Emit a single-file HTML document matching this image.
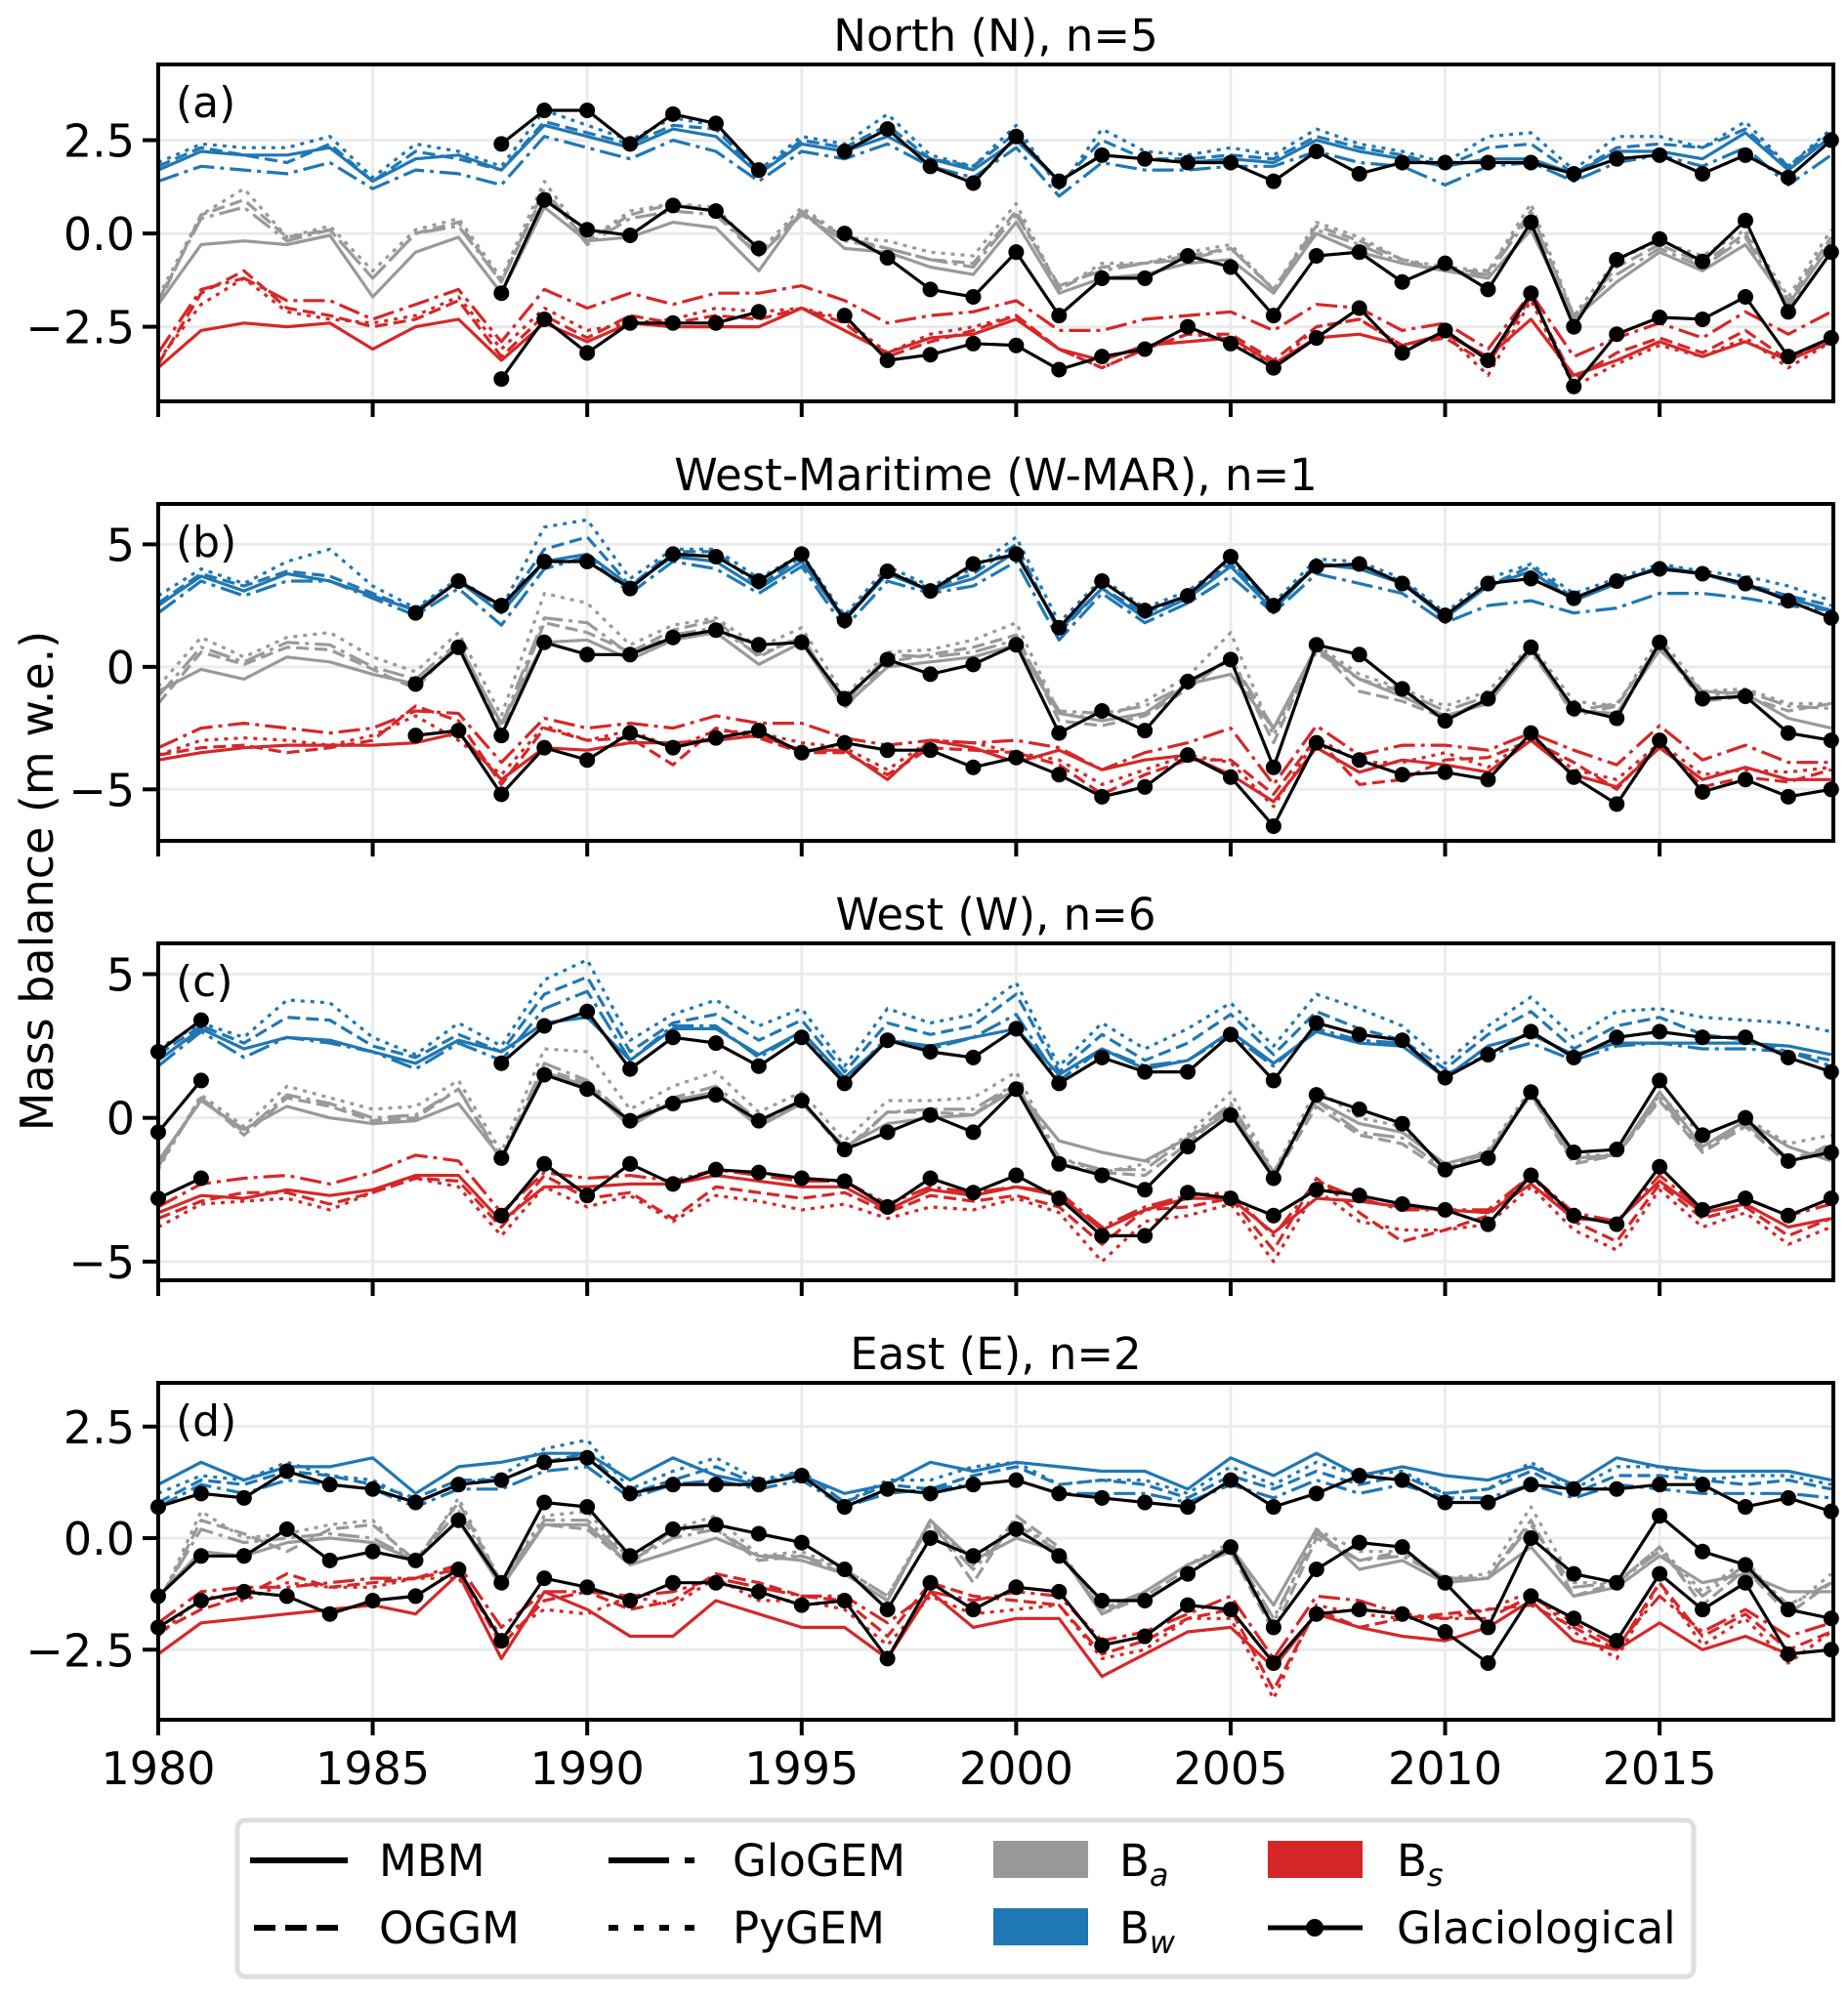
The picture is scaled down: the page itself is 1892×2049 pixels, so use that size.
<!DOCTYPE html>
<html><head><meta charset="utf-8">
<style>
body{margin:0;background:#fff;}
svg{display:block;font-family:"DejaVu Sans","Liberation Sans",sans-serif;}
</style></head>
<body>
<svg id="chart" width="1892" height="2049" viewBox="0 0 1892 2049" xmlns="http://www.w3.org/2000/svg">
<g id="plots"></g>
<g id="legend">
  <rect x="243" y="1864" width="1491" height="160" rx="8" fill="#fff" stroke="#dedede" stroke-width="5"/>
  <g><line x1="256" y1="1905" x2="356" y2="1905" stroke="#000" stroke-width="6"/><text x="388" y="1921" font-size="45">MBM</text></g>
  <g><line x1="260" y1="1974" x2="356" y2="1974" stroke="#000" stroke-width="6" stroke-dasharray="22,10"/><text x="388" y="1990" font-size="45">OGGM</text></g>
  <g><line x1="623" y1="1905" x2="711" y2="1905" stroke="#000" stroke-width="6" stroke-dasharray="62,16,10,0"/><text x="750" y="1921" font-size="45">GloGEM</text></g>
  <g><line x1="623" y1="1974" x2="711" y2="1974" stroke="#000" stroke-width="6" stroke-dasharray="10,16"/><text x="750" y="1990" font-size="45">PyGEM</text></g>
  <g><rect x="1017" y="1885" width="97" height="38" fill="#999"/><text x="1146" y="1921" font-size="45">B<tspan font-size="32" font-style="italic" dy="10">a</tspan></text></g>
  <g><rect x="1017" y="1954" width="97" height="38" fill="#1f77b4"/><text x="1146" y="1990" font-size="45">B<tspan font-size="32" font-style="italic" dy="10">w</tspan></text></g>
  <g><rect x="1298" y="1885" width="97" height="38" fill="#d62728"/><text x="1430" y="1921" font-size="45">B<tspan font-size="32" font-style="italic" dy="10">s</tspan></text></g>
  <g><line x1="1298" y1="1974" x2="1395" y2="1974" stroke="#000" stroke-width="5"/><circle cx="1346" cy="1974" r="9"/><text x="1430" y="1990" font-size="45">Glaciological</text></g>
</g>
<text x="54" y="902" font-size="46" text-anchor="middle" transform="rotate(-90 54 902)">Mass balance (m w.e.)</text>
</svg>
<script>
const years=[];for(let y=1980;y<=2019;y++)years.push(y);
const xTicks=[1980,1985,1990,1995,2000,2005,2010,2015];
const panelTitles=["North (N), n=5","West-Maritime (W-MAR), n=1","West (W), n=6","East (E), n=2"];
const panelLetters=["(a)","(b)","(c)","(d)"];
const yTicksA=[-2.5,0,2.5],yTicksB=[-5,0,5],yTicksC=[-5,0,5],yTicksD=[-2.5,0,2.5];
const yLimA=[-4.5,4.53],yLimB=[-7.1,6.65],yLimC=[-5.65,6.07],yLimD=[-4.07,3.48];
const _=null;
// Panel a
const aBwMBM=[1.7,2.2,2.1,2.1,2.3,1.4,2.0,2.1,1.7,2.9,2.6,2.3,2.8,2.6,1.6,2.4,2.2,2.6,2.0,1.7,2.5,1.4,2.1,2.0,1.9,2.0,1.9,2.5,2.2,2.0,1.8,2.0,2.0,1.6,2.2,2.2,2.0,2.7,1.7,2.6];
const aBwOGGM=[1.8,2.3,2.1,1.9,2.4,1.4,2.2,2.0,1.7,3.0,2.7,2.4,2.9,2.8,1.6,2.5,2.3,2.9,2.0,1.8,2.7,1.3,2.5,2.0,2.0,2.1,2.0,2.6,2.3,2.1,1.8,2.3,2.4,1.6,2.3,2.4,2.3,2.8,1.8,2.7];
const aBwPyGEM=[1.9,2.4,2.3,2.3,2.6,1.5,2.4,2.2,1.8,3.3,2.9,2.5,3.1,2.9,1.7,2.6,2.4,3.2,2.1,1.8,2.9,1.2,2.8,2.2,2.1,2.3,2.1,2.8,2.4,2.2,1.9,2.6,2.7,1.7,2.6,2.6,2.3,3.0,1.8,2.8];
const aBwGloGEM=[1.4,1.8,1.7,1.6,1.9,1.2,1.7,1.6,1.3,2.6,2.3,2.0,2.5,2.2,1.4,2.2,2.0,2.4,1.8,1.5,2.3,1.0,1.9,1.7,1.7,1.8,1.8,2.2,1.9,1.8,1.3,1.8,1.9,1.4,1.9,2.1,1.8,2.3,1.3,2.1];
const aBwGlac=[_,_,_,_,_,_,_,_,2.4,3.3,3.3,2.4,3.2,2.95,1.7,_,2.2,2.8,1.8,1.35,2.6,1.4,2.1,2.0,1.9,1.9,1.4,2.2,1.6,1.9,1.9,1.9,1.9,1.6,2.0,2.1,1.6,2.1,1.5,2.5];
const aBaMBM=[-1.9,-0.3,-0.2,-0.3,-0.05,-1.7,-0.5,-0.1,-1.6,0.7,-0.2,-0.1,0.3,0.15,-1.0,0.6,-0.4,-0.5,-0.9,-1.1,0.3,-1.6,-1.2,-1.1,-0.8,-0.7,-1.6,0.0,-0.5,-0.8,-1.0,-1.2,0.1,-2.3,-1.3,-0.5,-1.0,-0.3,-1.9,-0.3];
const aBaOGGM=[-1.9,0.5,0.9,-0.1,0.1,-1.2,0.0,0.3,-1.3,1.1,-0.2,0.5,0.8,0.6,-0.6,0.6,-0.1,-0.4,-0.7,-0.8,0.6,-1.5,-0.9,-0.8,-0.6,-0.4,-1.5,0.2,-0.2,-0.7,-1.0,-1.0,0.6,-2.3,-0.9,-0.3,-0.8,0.0,-1.8,-0.1];
const aBaPyGEM=[-1.7,0.5,1.2,-0.1,0.2,-1.0,0.1,0.4,-1.2,1.4,-0.2,0.6,0.8,0.7,-0.5,0.7,-0.1,-0.2,-0.5,-0.6,0.8,-1.5,-0.8,-0.8,-0.5,-0.3,-1.5,0.3,-0.1,-0.7,-0.9,-1.0,0.8,-2.2,-0.7,-0.2,-0.6,0.1,-1.7,0.1];
const aBaGloGEM=[-1.8,0.4,0.7,-0.2,0.1,-1.2,0.0,0.2,-1.3,1.2,-0.3,0.4,0.6,0.5,-0.6,0.5,-0.2,-0.4,-0.7,-0.9,0.5,-1.4,-1.0,-0.8,-0.7,-0.4,-1.5,0.1,-0.3,-0.8,-1.0,-1.1,0.5,-2.2,-1.1,-0.4,-0.9,-0.1,-2.0,-0.2];
const aBaGlac=[_,_,_,_,_,_,_,_,-1.6,0.9,0.1,-0.05,0.75,0.6,-0.4,_,0.0,-0.65,-1.5,-1.7,-0.5,-2.2,-1.2,-1.2,-0.6,-0.9,-2.2,-0.6,-0.5,-1.3,-0.8,-1.5,0.3,-2.5,-0.7,-0.15,-0.75,0.35,-2.1,-0.5];
const aBsMBM=[-3.6,-2.6,-2.4,-2.5,-2.4,-3.1,-2.5,-2.3,-3.4,-2.4,-2.9,-2.4,-2.5,-2.5,-2.5,-2.0,-2.6,-3.2,-2.8,-2.7,-2.3,-3.1,-3.4,-3.0,-2.9,-2.8,-3.5,-2.8,-2.7,-3.0,-2.7,-3.3,-2.3,-3.8,-3.4,-2.9,-3.3,-2.9,-3.4,-2.9];
const aBsOGGM=[-3.5,-1.6,-1.0,-2.0,-2.2,-2.5,-2.3,-1.8,-3.3,-2.2,-2.8,-2.2,-2.4,-2.2,-2.3,-2.0,-2.4,-3.3,-2.9,-2.6,-2.2,-3.1,-3.6,-3.1,-2.7,-2.7,-3.4,-2.5,-2.3,-3.0,-2.8,-3.5,-1.7,-3.9,-3.2,-2.8,-3.2,-2.6,-3.4,-2.8];
const aBsPyGEM=[-3.4,-1.9,-1.2,-2.1,-2.3,-2.4,-2.2,-1.7,-3.1,-2.0,-2.6,-2.4,-2.3,-2.0,-2.1,-2.0,-2.3,-3.2,-2.7,-2.5,-2.2,-3.1,-3.6,-3.1,-2.7,-2.8,-3.6,-2.5,-2.3,-3.0,-2.7,-3.8,-1.8,-4.1,-3.5,-3.0,-3.3,-2.8,-3.6,-2.9];
const aBsGloGEM=[-3.2,-1.5,-1.2,-1.8,-1.8,-2.3,-1.9,-1.5,-2.9,-1.5,-2.0,-1.6,-1.9,-1.6,-1.6,-1.4,-1.8,-2.4,-2.2,-2.1,-1.8,-2.6,-2.6,-2.3,-2.2,-2.1,-2.6,-1.9,-2.0,-2.6,-2.4,-3.1,-1.6,-3.3,-2.8,-2.4,-2.8,-2.1,-2.7,-2.1];
const aBsGlac=[_,_,_,_,_,_,_,_,-3.9,-2.3,-3.2,-2.4,-2.4,-2.4,-2.1,_,-2.2,-3.4,-3.25,-2.95,-3.0,-3.65,-3.3,-3.1,-2.5,-2.95,-3.6,-2.8,-2.0,-3.2,-2.6,-3.4,-1.6,-4.1,-2.7,-2.25,-2.3,-1.7,-3.3,-2.8];
// Panel b
const bBwMBM=[2.5,3.7,3.1,3.8,3.5,2.9,2.3,3.5,2.2,4.3,4.6,3.3,4.5,4.3,3.2,4.3,1.9,3.8,3.1,3.6,4.7,1.5,3.2,2.0,2.8,4.1,2.3,4.2,4.0,3.4,2.0,3.3,3.9,2.7,3.4,4.1,3.8,3.3,2.8,2.3];
const bBwOGGM=[2.6,3.8,3.3,3.9,3.7,3.0,2.3,3.5,2.3,4.8,5.3,3.3,4.7,4.7,3.3,4.5,2.0,3.9,3.2,3.8,5.0,1.4,3.2,2.2,2.9,4.2,2.5,4.2,4.1,3.5,2.1,3.3,4.1,2.8,3.5,4.0,3.8,3.4,2.9,2.5];
const bBwPyGEM=[2.9,4.0,3.4,4.3,4.8,3.3,2.4,3.6,2.4,5.7,6.0,3.6,4.8,4.8,3.6,4.6,2.1,4.1,3.3,4.0,5.3,1.8,3.6,2.4,3.1,4.3,2.6,4.4,4.3,3.6,2.2,3.6,4.2,3.0,3.6,4.2,3.9,3.7,3.3,2.7];
const bBwGloGEM=[2.2,3.5,2.9,3.5,3.5,2.8,2.1,3.2,1.7,4.0,4.5,3.0,4.3,4.0,3.0,4.1,1.6,3.5,3.0,3.3,4.3,1.1,3.0,1.8,2.6,3.7,2.2,3.8,3.4,3.0,1.8,2.5,2.7,2.2,2.4,3.0,3.0,2.8,2.5,2.3];
const bBwGlac=[_,_,_,_,_,_,2.2,3.5,2.5,4.3,4.3,3.2,4.6,4.5,3.5,4.6,1.9,3.9,3.1,4.2,4.6,1.6,3.5,2.3,2.9,4.5,2.5,4.1,4.2,3.4,2.1,3.4,3.6,2.8,3.5,4.0,3.8,3.4,2.7,2.0];
const bBaMBM=[-1.0,-0.1,-0.5,0.4,0.2,-0.3,-0.7,0.8,-2.3,1.0,1.1,0.3,1.1,1.4,0.1,1.0,-1.6,0.0,0.2,0.4,0.9,-1.9,-2.2,-1.9,-0.7,-0.3,-2.5,0.8,-0.5,-1.2,-2.0,-1.5,0.7,-1.8,-1.9,0.7,-1.0,-1.1,-2.1,-2.5];
const bBaOGGM=[-1.5,0.6,0.1,0.8,0.7,-0.1,-0.9,1.0,-2.6,1.8,1.4,0.6,1.5,1.9,0.4,1.3,-1.7,0.2,0.5,0.8,1.3,-2.2,-2.4,-2.0,-0.9,0.4,-3.1,0.8,-1.0,-1.4,-2.1,-1.3,0.8,-2.0,-1.6,0.9,-1.4,-1.2,-1.8,-1.5];
const bBaPyGEM=[-0.8,1.2,0.4,1.2,1.4,0.4,-0.2,1.4,-2.0,3.0,2.6,0.9,1.7,2.0,0.8,1.6,-1.2,0.6,0.7,1.1,1.8,-1.9,-2.1,-1.4,-0.4,1.4,-2.8,0.9,-0.3,-0.9,-1.6,-1.0,0.9,-1.4,-1.6,1.2,-1.0,-0.9,-1.5,-1.5];
const bBaGloGEM=[-1.2,0.8,0.2,1.0,0.9,0.0,-0.5,1.0,-2.4,2.0,1.8,0.5,1.3,1.6,0.5,1.2,-1.5,0.5,0.4,0.6,1.1,-1.8,-1.9,-1.6,-0.7,0.3,-2.5,0.6,-0.5,-1.0,-1.8,-1.2,0.6,-1.8,-1.5,0.8,-1.2,-1.0,-1.6,-1.7];
const bBaGlac=[_,_,_,_,_,_,-0.7,0.8,-2.8,1.0,0.5,0.5,1.2,1.5,0.9,1.0,-1.3,0.3,-0.3,0.1,0.9,-2.7,-1.8,-2.6,-0.6,0.3,-4.1,0.9,0.5,-0.9,-2.2,-1.3,0.8,-1.7,-2.1,1.0,-1.3,-1.2,-2.7,-3.0];
const bBsMBM=[-3.8,-3.5,-3.3,-3.2,-3.2,-3.2,-3.1,-2.7,-4.6,-3.3,-3.4,-3.1,-3.1,-3.0,-2.8,-3.4,-3.4,-4.6,-3.0,-3.3,-3.9,-3.4,-4.2,-3.8,-3.6,-4.4,-5.5,-3.3,-4.3,-3.8,-4.0,-4.3,-3.0,-4.4,-4.9,-3.3,-4.6,-4.1,-4.6,-4.6];
const bBsOGGM=[-3.6,-3.3,-3.2,-3.5,-3.3,-3.0,-1.6,-2.2,-4.8,-2.5,-3.0,-2.9,-4.0,-2.5,-2.9,-3.5,-3.5,-4.4,-3.3,-3.4,-3.5,-4.0,-5.2,-4.4,-3.8,-3.8,-5.2,-2.9,-4.8,-4.6,-3.8,-3.7,-3.0,-3.9,-5.0,-3.1,-4.9,-4.5,-4.7,-4.2];
const bBsPyGEM=[-3.6,-3.0,-2.9,-3.0,-3.2,-2.8,-2.0,-3.0,-4.4,-2.4,-3.0,-2.6,-3.3,-2.6,-2.7,-3.1,-3.3,-4.2,-3.0,-3.1,-3.5,-3.8,-4.8,-4.2,-3.6,-3.9,-5.7,-2.9,-3.9,-3.9,-3.5,-4.1,-2.9,-4.2,-4.6,-3.1,-4.4,-4.2,-4.3,-4.1];
const bBsGloGEM=[-3.3,-2.5,-2.3,-2.5,-2.7,-2.5,-1.8,-1.9,-3.9,-2.1,-2.5,-2.3,-2.5,-2.0,-2.3,-2.3,-2.9,-3.2,-3.0,-3.1,-3.0,-3.3,-4.2,-3.5,-3.1,-2.5,-4.8,-2.4,-3.6,-3.2,-3.2,-3.4,-2.7,-3.4,-4.0,-2.4,-3.8,-3.2,-3.9,-3.9];
const bBsGlac=[_,_,_,_,_,_,-2.8,-2.6,-5.2,-3.3,-3.8,-2.7,-3.3,-2.9,-2.6,-3.5,-3.1,-3.4,-3.4,-4.1,-3.7,-4.4,-5.3,-4.9,-3.6,-4.5,-6.5,-3.1,-3.8,-4.4,-4.3,-4.6,-2.7,-4.5,-5.6,-3.0,-5.1,-4.6,-5.3,-5.0];
// Panel c
const cBwMBM=[2.0,3.1,2.4,2.8,2.7,2.3,1.9,2.7,2.3,3.3,3.5,2.0,3.1,3.1,2.2,3.0,1.4,2.7,2.5,2.8,3.1,1.5,2.4,1.7,2.0,3.0,1.9,3.0,2.6,2.5,1.4,2.5,2.9,2.2,2.6,2.6,2.6,2.6,2.5,2.2];
const cBwOGGM=[2.2,3.2,2.6,3.5,3.4,2.5,2.1,2.9,2.3,4.3,4.9,2.3,3.3,3.6,2.7,3.4,1.6,3.3,2.9,3.2,4.3,1.6,2.9,2.0,2.6,3.6,2.2,3.7,3.1,2.7,1.7,2.9,3.7,2.4,3.2,3.5,2.9,2.7,2.3,2.0];
const cBwPyGEM=[2.4,3.3,2.8,4.1,4.0,2.8,2.2,3.3,2.5,4.8,5.5,2.7,3.6,4.1,3.2,3.8,1.8,3.8,3.3,3.6,4.7,1.8,3.3,2.4,3.1,4.0,2.5,4.3,3.8,3.2,1.9,3.2,4.2,2.8,3.7,3.8,3.5,3.4,3.3,3.0];
const cBwGloGEM=[1.8,3.0,2.1,2.8,2.6,2.3,1.7,2.6,2.0,3.8,4.4,2.0,3.2,3.2,2.1,3.0,1.3,2.8,2.4,2.8,3.6,1.3,2.4,1.8,2.0,2.9,1.8,3.1,2.7,2.6,1.5,2.2,2.6,2.0,2.5,2.6,2.4,2.4,2.3,1.8];
const cBwGlac=[2.3,3.4,_,_,_,_,_,_,1.9,3.2,3.7,1.7,2.8,2.6,1.8,2.8,1.2,2.7,2.3,2.1,3.1,1.2,2.1,1.6,1.6,2.9,1.3,3.3,2.9,2.7,1.4,2.2,3.0,2.1,2.8,3.0,2.8,2.8,2.1,1.6];
const cBaMBM=[-1.5,0.6,-0.4,0.4,0.0,-0.2,-0.1,0.5,-1.4,1.6,1.1,-0.3,0.6,0.9,-0.3,0.5,-1.0,-0.2,0.0,0.1,1.0,-0.8,-1.2,-1.5,-0.7,0.2,-1.9,0.6,-0.2,-0.5,-1.6,-1.2,0.8,-1.4,-1.3,0.9,-1.0,-0.1,-1.0,-1.5];
const cBaOGGM=[-1.6,0.7,-0.6,0.7,0.4,-0.1,0.0,1.0,-1.5,1.7,1.2,-0.2,0.6,0.9,-0.2,0.6,-1.2,0.2,0.2,0.1,1.2,-1.6,-1.9,-2.0,-0.9,0.4,-2.1,0.4,-0.6,-0.9,-1.9,-1.2,0.8,-1.6,-1.3,0.6,-1.2,-0.3,-1.6,-0.9];
const cBaPyGEM=[-1.8,0.8,-0.3,1.1,0.7,0.3,0.4,1.3,-1.2,2.4,2.3,0.3,1.1,1.6,0.2,0.9,-0.8,0.6,0.6,0.7,1.6,-1.4,-1.9,-1.6,-0.6,0.9,-1.9,1.0,0.0,-0.3,-1.8,-1.1,1.0,-1.3,-1.3,0.8,-0.6,0.0,-0.9,-0.6];
const cBaGloGEM=[-1.7,0.7,-0.5,0.8,0.5,0.0,0.1,1.0,-1.4,1.9,1.3,-0.1,0.7,1.1,-0.1,0.6,-1.1,0.2,0.3,0.3,1.2,-1.4,-1.8,-1.8,-0.7,0.5,-1.9,0.6,-0.5,-0.7,-1.8,-1.2,0.9,-1.5,-1.3,0.7,-1.1,-0.2,-1.4,-1.1];
const cBaGlac=[-0.5,1.3,_,_,_,_,_,_,-1.4,1.5,1.0,-0.1,0.5,0.8,-0.1,0.6,-1.1,-0.5,0.1,-0.5,1.0,-1.6,-2.0,-2.5,-1.0,0.1,-2.1,0.8,0.3,-0.2,-1.8,-1.4,0.9,-1.2,-1.1,1.3,-0.6,0.0,-1.5,-1.2];
const cBsMBM=[-3.3,-2.7,-2.8,-2.5,-2.7,-2.5,-2.0,-2.0,-3.6,-2.4,-2.4,-2.3,-2.3,-2.0,-2.2,-2.4,-2.4,-3.2,-2.5,-2.7,-2.4,-2.7,-3.9,-3.2,-2.8,-2.8,-4.0,-2.8,-2.9,-3.1,-3.2,-3.3,-2.3,-3.5,-3.6,-2.2,-3.3,-3.0,-3.8,-3.5];
const cBsOGGM=[-3.5,-2.9,-2.6,-2.6,-3.0,-2.6,-2.1,-2.2,-3.8,-2.0,-2.8,-2.6,-3.5,-2.4,-2.6,-2.8,-2.6,-3.3,-2.7,-2.9,-2.7,-3.1,-4.4,-3.2,-3.1,-2.8,-4.6,-2.1,-3.3,-4.3,-3.9,-3.4,-2.0,-3.6,-4.3,-2.3,-3.5,-3.1,-4.1,-3.5];
const cBsPyGEM=[-3.8,-3.0,-2.9,-2.8,-3.2,-2.6,-2.1,-2.4,-4.1,-2.4,-3.1,-2.7,-3.6,-2.7,-2.9,-3.2,-3.0,-3.5,-3.1,-3.2,-2.8,-3.3,-5.0,-3.6,-3.4,-3.0,-5.0,-2.5,-3.6,-3.9,-3.9,-3.7,-2.4,-3.9,-4.6,-2.5,-3.8,-3.3,-4.4,-3.8];
const cBsGloGEM=[-3.1,-2.3,-2.1,-2.0,-2.3,-1.9,-1.3,-1.5,-3.3,-1.9,-2.1,-2.0,-2.2,-1.8,-2.0,-2.2,-2.2,-3.0,-2.4,-2.6,-2.4,-2.6,-3.8,-3.1,-2.7,-2.6,-4.1,-2.2,-2.8,-3.2,-3.2,-3.2,-2.0,-3.3,-3.6,-2.0,-3.2,-2.8,-3.4,-3.0];
const cBsGlac=[-2.8,-2.1,_,_,_,_,_,_,-3.4,-1.6,-2.7,-1.6,-2.3,-1.8,-1.9,-2.1,-2.2,-3.1,-2.1,-2.6,-2.0,-2.8,-4.1,-4.1,-2.6,-2.8,-3.4,-2.5,-2.7,-3.0,-3.2,-3.7,-2.0,-3.4,-3.7,-1.7,-3.2,-2.8,-3.4,-2.8];
// Panel d
const dBwMBM=[1.2,1.7,1.3,1.6,1.6,1.8,1.0,1.6,1.7,1.9,1.9,1.3,1.8,1.4,1.2,1.4,1.0,1.2,1.7,1.5,1.7,1.6,1.5,1.5,1.1,1.8,1.4,1.9,1.4,1.6,1.4,1.3,1.6,1.2,1.8,1.6,1.5,1.5,1.5,1.3];
const dBwOGGM=[0.8,1.3,1.2,1.5,1.4,1.2,0.9,1.3,1.3,1.7,1.9,1.0,1.3,1.6,1.2,1.5,0.8,1.2,1.1,1.4,1.6,1.2,1.3,1.2,0.9,1.4,1.1,1.5,1.2,1.4,1.0,1.1,1.5,1.0,1.4,1.4,1.3,1.2,1.3,1.1];
const dBwPyGEM=[1.0,1.4,1.3,1.7,1.4,1.3,0.8,1.2,1.4,2.0,2.2,1.1,1.5,1.8,1.3,1.5,0.8,1.3,1.3,1.6,1.7,1.2,1.3,1.3,1.0,1.6,1.2,1.7,1.4,1.5,1.0,1.1,1.7,1.1,1.6,1.6,1.3,1.4,1.4,1.2];
const dBwGloGEM=[0.7,1.2,1.0,1.3,1.2,1.1,0.7,1.1,1.1,1.5,1.6,0.9,1.2,1.3,1.1,1.3,0.7,1.0,1.1,1.2,1.3,1.0,1.0,1.0,0.8,1.2,0.9,1.3,1.0,1.2,0.9,0.9,1.2,0.9,1.2,1.1,1.0,1.0,1.0,0.9];
const dBwGlac=[0.7,1.0,0.9,1.5,1.2,1.1,0.8,1.2,1.3,1.7,1.8,1.0,1.2,1.2,1.2,1.4,0.7,1.1,1.0,1.2,1.3,1.0,0.9,0.8,0.7,1.3,0.7,1.0,1.4,1.3,0.8,0.8,1.2,1.1,1.1,1.2,1.2,0.7,0.9,0.6];
const dBaMBM=[-1.3,-0.3,-0.4,-0.1,0.0,-0.1,-0.5,0.4,-1.1,0.3,0.3,-0.6,-0.3,0.0,-0.4,-0.5,-0.8,-1.4,0.4,-0.5,0.0,-0.3,-1.7,-1.2,-0.6,-0.2,-1.5,0.2,-0.7,-0.5,-1.0,-0.9,-0.2,-1.3,-1.1,-0.4,-1.0,-0.8,-1.2,-1.2];
const dBaOGGM=[-1.5,0.4,0.1,-0.3,0.2,0.3,-0.5,0.8,-1.0,0.3,0.2,-0.6,0.2,0.2,-0.5,-0.4,-0.8,-1.4,0.4,-1.0,0.5,-0.2,-1.7,-1.3,-0.7,-0.3,-2.1,0.0,-0.5,-0.3,-0.9,-0.9,0.4,-1.3,-1.0,-0.2,-1.5,-0.7,-1.7,-1.0];
const dBaPyGEM=[-1.5,0.6,0.0,0.1,0.3,0.4,-0.6,0.9,-1.0,0.5,0.6,-0.5,0.2,0.5,-0.4,-0.3,-0.7,-1.3,0.4,-0.6,0.4,-0.3,-1.6,-1.2,-0.6,-0.1,-1.9,0.2,-0.3,-0.3,-0.9,-0.8,0.7,-1.0,-1.0,-0.2,-1.2,-0.5,-1.6,-0.8];
const dBaGloGEM=[-1.4,0.2,-0.1,0.0,0.1,0.0,-0.5,0.6,-1.0,0.4,0.4,-0.5,0.0,0.2,-0.4,-0.4,-0.7,-1.3,0.3,-0.7,0.3,-0.3,-1.6,-1.2,-0.6,-0.2,-1.8,0.1,-0.5,-0.4,-0.9,-0.9,0.3,-1.1,-1.0,-0.3,-1.3,-0.6,-1.5,-1.0];
const dBaGlac=[-1.3,-0.4,-0.4,0.2,-0.5,-0.3,-0.5,0.4,-1.0,0.8,0.7,-0.4,0.2,0.3,0.1,-0.1,-0.7,-1.6,0.0,-0.4,0.2,-0.4,-1.4,-1.4,-0.8,-0.2,-2.0,-0.7,-0.1,-0.2,-1.0,-2.0,0.0,-0.8,-1.0,0.5,-0.3,-0.6,-1.6,-1.8];
const dBsMBM=[-2.6,-1.9,-1.8,-1.7,-1.6,-1.5,-1.7,-0.8,-2.7,-1.2,-1.6,-2.2,-2.2,-1.4,-1.7,-2.0,-2.0,-2.7,-1.2,-2.0,-1.8,-1.8,-3.1,-2.6,-2.1,-2.0,-2.9,-1.7,-2.0,-2.2,-2.3,-2.0,-1.4,-2.3,-2.5,-1.9,-2.5,-2.2,-2.6,-2.5];
const dBsOGGM=[-2.1,-1.6,-1.3,-0.8,-1.1,-1.0,-0.9,-0.7,-2.4,-1.4,-1.2,-1.6,-1.4,-0.8,-1.0,-1.3,-1.4,-2.2,-1.0,-1.3,-1.4,-1.5,-2.6,-2.3,-1.8,-1.6,-3.4,-1.6,-2.0,-1.8,-1.7,-1.6,-1.5,-2.0,-2.5,-1.0,-2.2,-1.7,-2.5,-2.1];
const dBsPyGEM=[-2.2,-1.3,-1.4,-1.0,-1.1,-1.1,-0.9,-0.9,-2.2,-1.6,-1.7,-1.3,-1.5,-0.9,-1.4,-1.4,-1.6,-2.4,-1.3,-1.7,-1.6,-1.5,-2.7,-2.5,-1.8,-1.8,-3.6,-1.5,-1.7,-1.8,-1.8,-1.6,-1.2,-2.1,-2.7,-1.0,-2.4,-1.8,-2.8,-2.1];
const dBsGloGEM=[-1.9,-1.2,-1.1,-1.1,-1.0,-0.9,-0.9,-0.6,-2.0,-1.2,-1.2,-1.3,-1.2,-0.9,-1.1,-1.3,-1.3,-1.9,-1.2,-1.4,-1.2,-1.3,-2.3,-2.1,-1.7,-1.3,-2.7,-1.3,-1.4,-1.7,-1.8,-1.8,-1.3,-1.9,-2.4,-1.3,-2.1,-1.6,-2.2,-1.9];
const dBsGlac=[-2.0,-1.4,-1.2,-1.3,-1.7,-1.4,-1.3,-0.7,-2.3,-0.9,-1.1,-1.4,-1.0,-1.0,-1.2,-1.5,-1.4,-2.7,-1.0,-1.6,-1.1,-1.2,-2.4,-2.2,-1.5,-1.6,-2.8,-1.7,-1.6,-1.7,-2.1,-2.8,-1.3,-1.8,-2.3,-0.8,-1.6,-1.0,-2.6,-2.5];

const NS="http://www.w3.org/2000/svg";
const X0=162,X1=1877,YR0=1980,YR1=2019.05;
function xScale(yr){return X0+(yr-YR0)/(YR1-YR0)*(X1-X0);}
const panelTops=[66,516,966,1416],PH=345;
const panels=[
 {lim:yLimA,ticks:yTicksA,fmt:v=>v.toFixed(1),s:{Ba:[aBaMBM,aBaOGGM,aBaGloGEM,aBaPyGEM,aBaGlac],Bw:[aBwMBM,aBwOGGM,aBwGloGEM,aBwPyGEM,aBwGlac],Bs:[aBsMBM,aBsOGGM,aBsGloGEM,aBsPyGEM,aBsGlac]}},
 {lim:yLimB,ticks:yTicksB,fmt:v=>String(v),s:{Ba:[bBaMBM,bBaOGGM,bBaGloGEM,bBaPyGEM,bBaGlac],Bw:[bBwMBM,bBwOGGM,bBwGloGEM,bBwPyGEM,bBwGlac],Bs:[bBsMBM,bBsOGGM,bBsGloGEM,bBsPyGEM,bBsGlac]}},
 {lim:yLimC,ticks:yTicksC,fmt:v=>String(v),s:{Ba:[cBaMBM,cBaOGGM,cBaGloGEM,cBaPyGEM,cBaGlac],Bw:[cBwMBM,cBwOGGM,cBwGloGEM,cBwPyGEM,cBwGlac],Bs:[cBsMBM,cBsOGGM,cBsGloGEM,cBsPyGEM,cBsGlac]}},
 {lim:yLimD,ticks:yTicksD,fmt:v=>v.toFixed(1),s:{Ba:[dBaMBM,dBaOGGM,dBaGloGEM,dBaPyGEM,dBaGlac],Bw:[dBwMBM,dBwOGGM,dBwGloGEM,dBwPyGEM,dBwGlac],Bs:[dBsMBM,dBsOGGM,dBsGloGEM,dBsPyGEM,dBsGlac]}}
];
const colors={Ba:"#999999",Bw:"#1f77b4",Bs:"#d62728"};
const modelNames=["mbm","oggm","glogem","pygem"];
const dashes=["", "13,6","22,6,4,6","4,6"];
function el(tag,attrs,parent){const e=document.createElementNS(NS,tag);for(const k in attrs)e.setAttribute(k,attrs[k]);parent.appendChild(e);return e;}
const root=document.getElementById('plots');
panels.forEach((p,pi)=>{
  const top=panelTops[pi],bot=top+PH;
  const yS=v=>bot-(v-p.lim[0])/(p.lim[1]-p.lim[0])*PH;
  const g=el('g',{},root);
  
  
  xTicks.forEach(t=>{const l=el('line',{x1:xScale(t),x2:xScale(t),y1:top,y2:bot,stroke:'#ebebeb','stroke-width':3},g);
    });
  p.ticks.forEach(t=>{const l=el('line',{x1:X0,x2:X1,y1:yS(t),y2:yS(t),stroke:'#ebebeb','stroke-width':3},g);
    });
  ['Ba','Bw','Bs'].forEach(comp=>{
    const arrs=p.s[comp];
    for(let m=0;m<4;m++){
      let d='';let pen=false;
      arrs[m].forEach((v,i)=>{if(v===null){pen=false;return;}d+=(pen?'L':'M')+xScale(years[i]).toFixed(1)+','+yS(v).toFixed(1);pen=true;});
      const path=el('path',{d:d,fill:'none',stroke:colors[comp],'stroke-width':3.2,'stroke-linejoin':'round'},g);
      if(dashes[m])path.setAttribute('stroke-dasharray',dashes[m]);
      
      
    }
  });
  ['Ba','Bw','Bs'].forEach(comp=>{
    const arr=p.s[comp][4];
    let d='';let pen=false;
    arr.forEach((v,i)=>{if(v===null){pen=false;return;}d+=(pen?'L':'M')+xScale(years[i]).toFixed(1)+','+yS(v).toFixed(1);pen=true;});
    const path=el('path',{d:d,fill:'none',stroke:'#000','stroke-width':3.2},g);
    
    
    arr.forEach((v,i)=>{if(v===null)return;
      const c=el('circle',{cx:xScale(years[i]),cy:yS(v),r:8,fill:'#000'},g);
      
      });
  });
  const fr=el('rect',{x:X0,y:top,width:X1-X0,height:PH,fill:'none',stroke:'#000','stroke-width':4},g);
  
  
  p.ticks.forEach(t=>{
    el('line',{x1:X0-16,x2:X0,y1:yS(t),y2:yS(t),stroke:'#000','stroke-width':4},g);
    const tx=el('text',{x:X0-24,y:yS(t)+17,'font-size':46,'text-anchor':'end'},g);
    tx.textContent=p.fmt(t).replace('-','\u2212');
    
    
  });
  xTicks.forEach(t=>{el('line',{x1:xScale(t),x2:xScale(t),y1:bot,y2:bot+16,stroke:'#000','stroke-width':4},g);});
  if(pi===3){xTicks.forEach(t=>{
    const tx=el('text',{x:xScale(t),y:bot+66,'font-size':46,'text-anchor':'middle'},g);
    tx.textContent=String(t);
    
    });}
  const ti=el('text',{x:(X0+X1)/2,y:top-14,'font-size':45,'text-anchor':'middle'},g);
  ti.textContent=panelTitles[pi];
  
  
  const lt=el('text',{x:X0+18,y:top+54,'font-size':44},g);
  lt.textContent=panelLetters[pi];
  
  
});
</script>
</body></html>
